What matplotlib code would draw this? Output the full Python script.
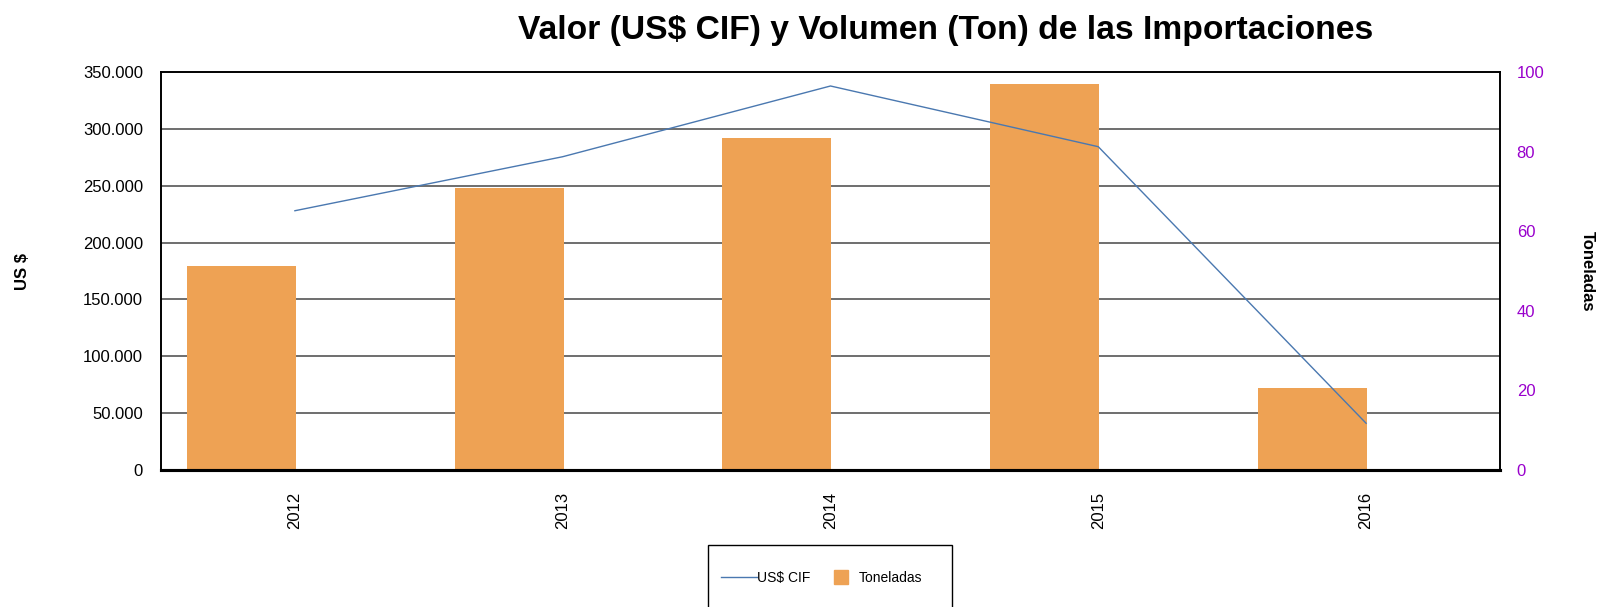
import numpy as np
import matplotlib
matplotlib.use("Agg")
import matplotlib.pyplot as plt
from matplotlib.ticker import FuncFormatter
from matplotlib.lines import Line2D
from matplotlib.patches import Rectangle

# data
years = ["2012", "2013", "2014", "2015", "2016"]
valor_cif = [228000, 275500, 337700, 284300, 41100]   # US$ CIF (left axis)
toneladas = [51.3, 70.9, 83.4, 97.0, 20.6]            # Toneladas (right axis)

plt.rcParams['font.family'] = ['Liberation Sans', 'DejaVu Sans']
narrow = ['Liberation Sans Narrow', 'Liberation Sans', 'DejaVu Sans']

bar_color = "#EEA254"
line_color = "#4A78B0"
purple = "#9900CC"

W, H = 1602, 607
fig = plt.figure(figsize=(W / 100, H / 100), dpi=100)
ax = fig.add_axes([161 / W, 1 - 470 / H, (1500 - 161) / W, (470 - 72) / H])
ax2 = ax.twinx()
ax.set_zorder(2)
ax.patch.set_visible(False)

x = np.arange(len(years))

# bars sit in the left half of each category (like an empty second series)
ax2.bar(x - 0.2, toneladas, width=0.407, color=bar_color, zorder=2)
ax2.set_ylim(0, 100)
ax2.set_yticks(np.arange(0, 101, 20))
ax2.set_yticks(np.linspace(0, 100, 8), minor=True)
ax2.grid(which='minor', color='#555555', linewidth=1.2, zorder=0)
ax2.set_axisbelow(True)
ax2.tick_params(axis='y', which='both', length=0, labelsize=12, labelcolor=purple, pad=12)
ax2.set_ylabel("Toneladas", rotation=270, fontsize=12, fontweight='bold', labelpad=36)

ax.plot(x, valor_cif, color=line_color, linewidth=1.0)
ax.set_ylim(0, 350000)
ax.set_yticks(np.arange(0, 350001, 50000))
ax.yaxis.set_major_formatter(FuncFormatter(lambda v, p: "0" if v == 0 else f"{int(v):,}".replace(",", ".")))
ax.tick_params(axis='y', length=0, labelsize=12, pad=13)
ax.set_xlim(-0.5, len(years) - 0.5)
ax.set_xticks(x)
ax.set_xticklabels(years, rotation=90, fontsize=12)
ax.tick_params(axis='x', length=0, pad=16)
ax.set_ylabel("US $", fontsize=12, fontweight='bold', labelpad=38)

for a in (ax, ax2):
    for s in a.spines.values():
        s.set_color('black')
        s.set_linewidth(1.2)
ax.spines['bottom'].set_linewidth(2.2)
ax2.spines['bottom'].set_linewidth(2.2)

fig.text(946 / W, 1 - 31 / H, "Valor (US$ CIF) y Volumen (Ton) de las Importaciones",
         ha='center', va='center', fontsize=24.2, fontweight='bold', family=narrow)

# legend box (runs off the bottom edge like the reference)
fig.patches.append(Rectangle((708 / W, -0.05), (952 - 708) / W, 0.05 + (607 - 545) / H,
                             transform=fig.transFigure, facecolor='white',
                             edgecolor='black', linewidth=1.0))
handles = [Line2D([0], [0], color=line_color, linewidth=1.0),
           Line2D([0], [0], color=bar_color, marker='s', markersize=10, linestyle='none')]
leg = fig.legend(handles, ["US$ CIF", "Toneladas"], loc='center left',
                 bbox_to_anchor=(721 / W, 1 - 578 / H), ncol=2, fontsize=10,
                 frameon=False, borderpad=0, borderaxespad=0, handlelength=2.6,
                 handletextpad=0.0, columnspacing=0.9)

fig.savefig("out.png", dpi=100)
